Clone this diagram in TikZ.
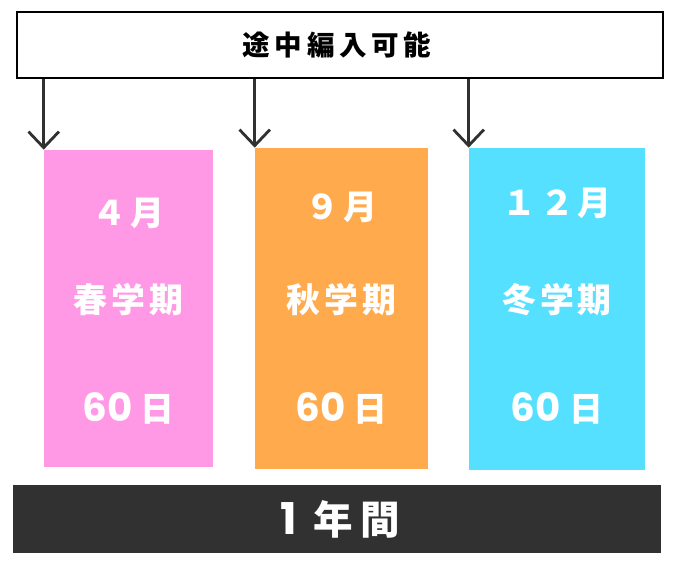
\documentclass[tikz,border=0pt]{standalone}
\usepackage{fontspec}
\newfontfamily\jpfont{Noto Sans CJK JP}[LetterSpace=12]
\newfontfamily\numfont{Poppins}
\newcommand\suuji[1]{{\numfont\fontsize{27.5bp}{30bp}\selectfont #1}}
\usetikzlibrary{arrows.meta}
\definecolor{haru}{HTML}{FF99E6}
\definecolor{aki}{HTML}{FFAA4C}
\definecolor{fuyu}{HTML}{55E0FF}
\definecolor{sumi}{HTML}{313131}
\begin{document}
\begin{tikzpicture}[x=0.025cm,y=-0.025cm,
  term/.style={inner sep=0pt,minimum height=#1},
  lbl/.style={text=white,font=\jpfont\bfseries\fontsize{24bp}{28bp}\selectfont},
  every edge/.style={draw}]
\useasboundingbox (0,0) rectangle (680,570);
\node[draw=black,line width=1.6pt,inner sep=0pt,minimum width=16.15cm,minimum height=1.65cm] (top) at (340,45) {};
\node[font=\jpfont\bfseries\fontsize{19.5bp}{22bp}\addfontfeatures{LetterSpace=17}\selectfont] (toptext) at (337,45) {途中編入可能};
\node[term=7.925cm,fill=haru,minimum width=4.225cm] (spring) at (128.5,308.5) {};
\node[term=8.025cm,fill=aki,minimum width=4.325cm] (autumn) at (341.5,308.5) {};
\node[term=8.05cm,fill=fuyu,minimum width=4.4cm] (winter) at (557,309) {};
\node[fill=sumi,inner sep=0pt,minimum width=16.2cm,minimum height=1.7cm] (year) at (337,519) {};
\node[text=white,font=\jpfont\bfseries\fontsize{28bp}{32bp}\addfontfeatures{LetterSpace=17}\selectfont] (yeartext) at (340,519) {{\numfont\bfseries\fontsize{31bp}{34bp}\selectfont 1}\hspace{12bp}年間};
\node[lbl] (m1) at (128.5,213) {４月};
\node[lbl] (s1) at (128.5,300) {春学期};
\node[lbl] (d1) at (128.5,408) {\suuji{60}\hspace{6bp}日};
\node[lbl] (m2) at (341.5,207) {９月};
\node[lbl] (s2) at (341.5,300) {秋学期};
\node[lbl] (d2) at (341.5,408) {\suuji{60}\hspace{6bp}日};
\node[lbl] (m3) at (557,203) {１２月};
\node[lbl] (s3) at (557,300) {冬学期};
\node[lbl] (d3) at (557,408) {\suuji{60}\hspace{6bp}日};
\draw[sumi,line width=2pt,-{Straight Barb[length=4mm,width=7.6mm]}] (spring.north west |- top.south)--(spring.north west);
\draw[sumi,line width=2pt,-{Straight Barb[length=4mm,width=7.6mm]}] (autumn.north west |- top.south)--(autumn.north west);
\draw[sumi,line width=2pt,-{Straight Barb[length=4mm,width=7.6mm]}] (winter.north west |- top.south)--(winter.north west);
\end{tikzpicture}
\end{document}
